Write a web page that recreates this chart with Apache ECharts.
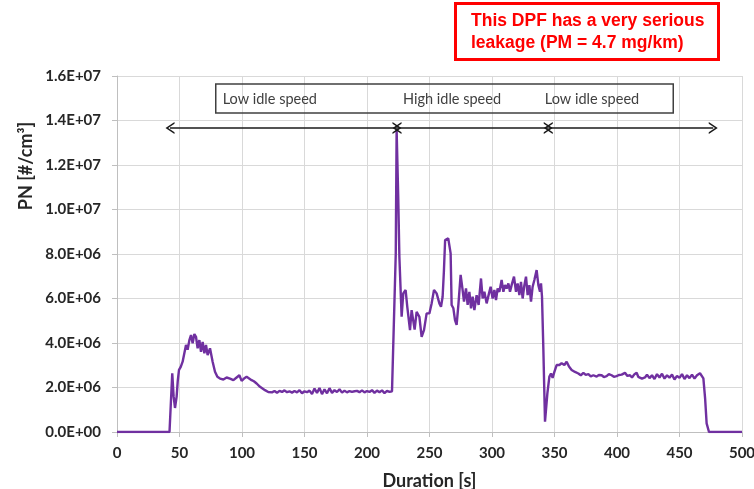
<!DOCTYPE html>
<html>
<head>
<meta charset="utf-8">
<script src="https://cdn.jsdelivr.net/npm/echarts@6/dist/echarts.min.js"></script>
<style>
  html, body { margin: 0; padding: 0; background: #fff; }
  #main { width: 754px; height: 489px; }
</style>
</head>
<body>
<div id="main"></div>
<script>
// duration [s] and PN in units of 1E+06 #/cm3
const timeS = [
  0, 42, 43, 44.2, 45.3, 46.4, 47.7, 48.6, 49.6, 51, 52.5, 53.5, 55.2, 56.5, 57.9, 59.2, 60.5, 61.9, 63.2, 64.5,
  65.9, 67.2, 68.5, 69.9, 71.2, 72.5, 74.4, 76.5, 78.4, 80.3, 82.4, 85.1, 87.7, 90.4, 93.1, 95.7, 97.9, 99.7, 101.6, 103.7,
  105, 107.7, 109.5, 111.7, 113, 114.4, 116, 118.4, 121,
  122, 124, 126, 128, 130, 132, 134, 136, 138, 140, 142, 144, 146, 148, 150, 152, 154, 156, 158, 160,
  162, 164, 166, 168, 170, 172, 174, 176, 178, 180, 182, 184, 186, 188, 190, 192, 194, 196, 198, 200,
  202, 204, 206, 208, 210, 212, 214, 216, 218, 220, 221.1,
  223, 223.7, 225, 225.9, 227.7, 229, 230.9, 232.2, 234.4, 235.7, 237, 238.1, 239.7, 241.9, 243.7, 245.6, 247.7, 249.9, 251.7, 253.6,
  255.7, 257.9, 259.2, 260.5, 261.5, 262.5, 265, 266.9, 267.7, 269.1, 270.4, 271.7, 273.1, 274.9, 276.5, 277.6, 279.2, 280.5, 281.9, 283.2,
  284.5, 285.9, 287.7, 289.3, 291.2, 292.5, 293.9, 295.7, 297.6, 298.9, 300.5, 301.9, 303.2, 304.5, 305.9, 307.7, 309.1, 310.4, 311.7, 313.1,
  314.4, 315.7, 317.6, 319.2, 320.5, 321.9, 323.2, 324.5, 325.9, 327.2, 328.5, 329.9, 331.2, 332.5, 333.9, 335.7, 337.1, 338.4, 339.2, 340,
  341.1,
  342.4, 344.3, 345.9, 347.2, 348.5, 349.9, 351.7, 353.9, 355.7, 357.9, 359.7, 361.6, 363.7, 366.4, 369.1, 371, 373.1, 375, 377.1, 379,
  381.1, 383.7, 385.5, 387.7, 389.5, 391.7, 393.5, 395.7, 397.5, 399.7, 401.5, 403.7, 405, 406.4, 408.3, 410.4, 412, 414, 415.7, 417,
  418.4, 420, 422.4, 424, 426, 428, 430, 432, 434, 436, 438, 440, 442, 444, 446, 448, 450, 452, 454, 456,
  458, 460, 462, 464, 466.4, 469.1, 470.5, 471.7, 473.6, 500
];
const pnE6 = [
  0, 0, 1.2, 2.64, 1.6, 1.08, 1.59, 2.3, 2.79, 2.93, 3.16, 3.1, 3.91, 3.7, 4.13, 4.36, 3.99, 4.4, 4.28, 3.76,
  4.13, 3.6, 4.05, 3.54, 3.91, 3.46, 3.76, 3.16, 2.71, 2.48, 2.4, 2.36, 2.45, 2.4, 2.33, 2.45, 2.55, 2.3, 2.4, 2.48,
  2.5, 2.33, 2.28, 2.18, 2.1, 2.03, 2.0, 1.88, 1.8,
  1.86, 1.78, 1.84, 1.76, 1.85, 1.80, 1.87, 1.79, 1.83, 1.77, 1.84, 1.78, 1.88, 1.74, 1.83, 1.79, 1.86, 1.71, 1.95, 1.76,
  1.98, 1.70, 1.92, 1.74, 1.97, 1.76, 1.88, 1.80, 1.92, 1.77, 1.86, 1.78, 1.84, 1.80, 1.83, 1.85, 1.79, 1.87, 1.78, 1.84,
  1.80, 1.88, 1.76, 1.86, 1.79, 1.87, 1.75, 1.85, 1.80, 1.83, 1.85,
  8.0, 13.57, 10.5, 7.88, 5.18, 6.23, 6.38, 5.63, 4.58, 5.48, 5.48, 4.6, 5.4, 5.18, 4.28, 4.58, 5.33, 5.33, 5.78, 6.38,
  6.23, 5.78, 5.63, 6.08, 7.2, 8.63, 8.7, 8.03, 5.71, 5.56, 5.03, 4.81, 5.71, 7.06, 6.38, 5.86, 6.45, 5.71, 6.3, 5.56,
  6.08, 5.48, 6.15, 5.71, 6.9, 6.0, 6.3, 5.78, 6.23, 6.53, 6.0, 6.38, 5.93, 6.45, 6.3, 6.83, 6.3, 6.6, 6.45, 6.68,
  6.3, 6.6, 6.98, 6.3, 6.68, 6.15, 6.75, 6.0, 6.6, 6.98, 6.15, 6.6, 5.86, 6.53, 6.83, 7.28, 6.6, 6.3, 6.68, 6.08,
  3.69,
  0.46, 1.74, 2.49, 2.63, 2.43, 2.7, 3.01, 3.01, 3.09, 3.01, 3.16, 2.94, 2.79, 2.7, 2.63, 2.55, 2.66, 2.57, 2.6, 2.5,
  2.55, 2.49, 2.56, 2.55, 2.47, 2.51, 2.6, 2.55, 2.48, 2.51, 2.56, 2.58, 2.5, 2.66, 2.52, 2.55, 2.45, 2.6, 2.66, 2.48,
  2.51, 2.4, 2.45, 2.58, 2.42, 2.55, 2.38, 2.6, 2.45, 2.62, 2.4, 2.55, 2.44, 2.58, 2.36, 2.52, 2.43, 2.6, 2.38, 2.55,
  2.42, 2.58, 2.4, 2.55, 2.64, 2.41, 1.5, 0.39, 0, 0
];

// phase annotations (box, labels, arrows) in data units
const phaseBox = [[79, 15.64e6], [445, 14.34e6]];
const phaseLabels = ['Low idle speed', 'High idle speed', 'Low idle speed'];
const phaseLabelPos = [[84.5, 14.97e6], [268, 14.97e6], [380, 14.97e6]];
const phaseBounds = [42.4, 224, 345, 477];
const arrowY = 13.66e6;

const xTicks = { min: 0, max: 500, interval: 50 };
const yTicks = { min: 0, max: 1.6e7, interval: 2e6 };

const seriesData = timeS.map((t, i) => [t, pnE6[i] * 1e6]);

function sci(v) {
  if (v === 0) return '0.0E+00';
  const e = Math.floor(Math.log10(v) + 1e-9);
  const m = v / Math.pow(10, e);
  return m.toFixed(1) + 'E+' + String(e).padStart(2, '0');
}

const chevron = 'path://M5,0 L10,10 L8.5,10 L5,3 L1.5,10 L0,10 Z';

let arrows = [];
for (let i = 0; i < phaseBounds.length - 1; i++) {
  arrows.push([{ coord: [phaseBounds[i], arrowY] }, { coord: [phaseBounds[i + 1], arrowY] }]);
}

let labelPoints = phaseLabels.map((txt, i) => ({
  coord: phaseLabelPos[i],
  label: {
    formatter: txt,
    align: i === 0 ? 'left' : 'center'
  }
}));

const chart = echarts.init(document.getElementById('main'));
chart.setOption({
  animation: false,
  title: {
    text: 'This DPF has a very serious\nleakage (PM = 4.7 mg/km)',
    left: 455,
    top: 3,
    padding: [7, 14, 6, 16],
    borderColor: '#ff0000',
    borderWidth: 3,
    textStyle: {
      color: '#ff0000',
      fontFamily: 'Liberation Sans',
      fontWeight: 'bold',
      fontSize: 17.5,
      lineHeight: 22
    }
  },
  grid: { left: 117, right: 12, top: 76, bottom: 57, outerBoundsMode: 'none' },
  xAxis: {
    type: 'value',
    min: xTicks.min,
    max: xTicks.max,
    interval: xTicks.interval,
    name: 'Duration [s]',
    nameLocation: 'middle',
    nameGap: 40,
    nameTextStyle: { fontFamily: 'Lato', fontWeight: 'bold', fontSize: 18, color: '#262626' },
    axisLine: { lineStyle: { color: '#bfbfbf' } },
    axisTick: { show: true, length: 5, lineStyle: { color: '#bfbfbf' } },
    axisLabel: { margin: 14, fontFamily: 'Lato', fontWeight: 'bold', fontSize: 15, color: '#262626' },
    splitLine: { show: true, lineStyle: { color: '#d9d9d9' } }
  },
  yAxis: {
    type: 'value',
    min: yTicks.min,
    max: yTicks.max,
    interval: yTicks.interval,
    axisLine: { show: true, lineStyle: { color: '#bfbfbf' } },
    axisTick: { show: true, length: 5, lineStyle: { color: '#bfbfbf' } },
    axisLabel: { margin: 16, formatter: sci, fontFamily: 'Lato', fontWeight: 'bold', fontSize: 15, color: '#262626' },
    splitLine: { show: true, lineStyle: { color: '#d9d9d9' } }
  },
  graphic: [{
    type: 'text',
    x: 26,
    y: 166,
    rotation: Math.PI / 2,
    style: {
      text: 'PN [#/cm³]',
      align: 'center',
      verticalAlign: 'middle',
      font: 'bold 18px Lato',
      fill: '#262626'
    }
  }],
  series: [{
    type: 'line',
    data: seriesData,
    showSymbol: false,
    smooth: false,
    lineStyle: { color: '#7030a0', width: 2.4 },
    itemStyle: { color: '#7030a0' },
    z: 3,
    markArea: {
      silent: true,
      itemStyle: { color: 'rgba(0,0,0,0)', borderColor: '#404040', borderWidth: 1.5 },
      data: [[{ coord: phaseBox[0] }, { coord: phaseBox[1] }]]
    },
    markPoint: {
      silent: true,
      symbol: 'circle',
      symbolSize: 0,
      label: {
        show: true,
        position: 'inside',
        verticalAlign: 'middle',
        fontFamily: 'Lato',
        fontSize: 14.5,
        color: '#404040'
      },
      data: labelPoints
    },
    markLine: {
      silent: true,
      symbol: [chevron, chevron],
      symbolSize: [12, 9],
      label: { show: false },
      lineStyle: { color: '#1a1a1a', width: 1.5, type: 'solid' },
      data: arrows
    }
  }]
});
</script>
</body>
</html>
